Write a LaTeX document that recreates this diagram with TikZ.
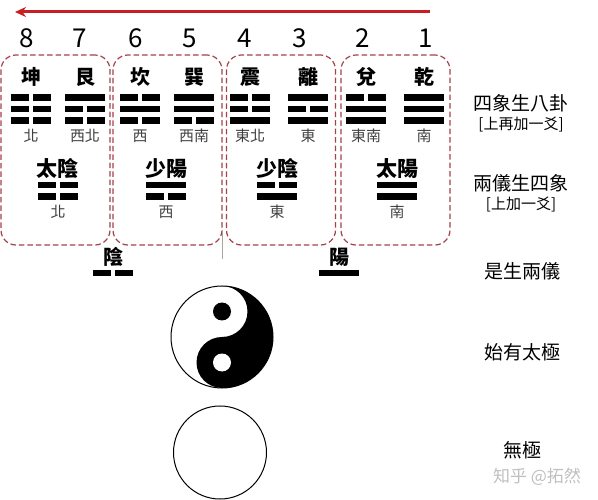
\documentclass[tikz,border=0pt]{standalone}
\usepackage{fontspec}
\setmainfont{Noto Sans CJK TC}
\usepackage{tikz}
\usetikzlibrary{positioning}
\usetikzlibrary{arrows.meta}
\definecolor{arrowred}{RGB}{200,30,35}
\definecolor{boxred}{RGB}{165,65,75}
\tikzset{gua box/.style={draw=boxred,dash pattern=on 5.5pt off 3pt,line width=1.2pt,rounded corners=15pt,minimum width=109pt,minimum height=190pt,inner sep=0pt},
  num/.style={font=\fontsize{26}{26}\selectfont},
  gua name/.style={font=\fontsize{20}{20}\selectfont\bfseries,inner sep=0pt},
  dir/.style={font=\fontsize{15}{15}\selectfont,text=black!75,inner sep=0pt},
  side/.style={font=\fontsize{19}{19}\selectfont,inner sep=0pt},
  side note/.style={font=\fontsize{15}{15}\selectfont,inner sep=0pt},}
\newcommand{\yangbar}[2]{\fill (#1-20,#2-3.3) rectangle (#1+20,#2+3.3);}
\newcommand{\yinbar}[2]{\fill (#1-20,#2-3.3) rectangle (#1-2.2,#2+3.3); \fill (#1+2.2,#2-3.3) rectangle (#1+20,#2+3.3);}

\begin{document}
\begin{tikzpicture}[x=1pt,y=-1pt]
	\useasboundingbox (0,0) rectangle (598,500);

	% order arrow and numbers
	\coordinate (arrow start) at (430,12);
	\coordinate (arrow end) at (15,12);
	\draw[-{Stealth[length=11pt,width=10pt]}, arrowred, line width=3pt] (arrow start) -- (arrow end);
	\foreach \n/\x in {8/27,7/80,6/136,5/190,4/245,3/300,2/363,1/426}
		\node[num] (n\n) at (\x,38) {\n};

	% dashed boxes
	\node[gua box] (box1) at (55.5,150) {};
	\node[gua box] (box2) at (167.5,150) {};
	\node[gua box] (box3) at (281,150) {};
	\node[gua box] (box4) at (395.5,150) {};
	\draw[gray!70, line width=0.6pt] (222,230) -- (222,259);

	% eight trigrams
	\foreach \x/\name/\dirn/\a/\b/\c in {31/坤/北/yin/yin/yin, 85/艮/西北/yang/yin/yin, 140/坎/西/yin/yang/yin, 194/巽/西南/yang/yang/yin, 250/震/東北/yin/yin/yang, 308/離/東/yang/yin/yang, 366/兌/東南/yin/yang/yang, 424/乾/南/yang/yang/yang}
	{
		\node[gua name] (g\x) at (\x,77) {\name};
		\csname\a bar\endcsname{\x}{97.7}
		\csname\b bar\endcsname{\x}{109}
		\csname\c bar\endcsname{\x}{120.3}
		\node[dir] (d\x) at (\x,136) {\dirn};
	}

	% four images
	\foreach \x/\name/\dirn/\a/\b in {58/太陰/北/yin/yin, 166/少陽/西/yang/yin, 277/少陰/東/yin/yang, 397/太陽/南/yang/yang}
	{
		\node[gua name, font=\fontsize{21}{21}\selectfont\bfseries] (s\x) at (\x,169) {\name};
		\csname\a bar\endcsname{\x}{185}
		\csname\b bar\endcsname{\x}{196.7}
		\node[dir] (e\x) at (\x,212) {\dirn};
	}

	% two modes
	\node[gua name] (yin) at (113,257) {陰};
	\yinbar{113}{273}
	\node[gua name] (yang) at (339,257) {陽};
	\yangbar{339}{273}

	% taiji
	\node[circle, draw, line width=1pt, minimum size=102pt, inner sep=0pt] (taiji) at (222,337) {};
	\begin{scope}[shift={(taiji.center)}, yscale=-1]
		\fill (0,51) arc[start angle=90, end angle=-90, radius=51]
			arc[start angle=-90, end angle=-270, radius=25.5]
			arc[start angle=-90, end angle=90, radius=25.5];
		\fill (0,25.5) circle (9);
		\fill[white] (0,-25.5) circle (9);
	\end{scope}

	% wuji
	\node[circle, draw, line width=1pt, minimum size=93pt, inner sep=0pt] (wuji) at (220,452.5) {};

	% side labels
	\node[side] (bagua) at (521,103) {四象生八卦};
	\node[side note] (bagua note) [below=5pt of bagua] {[上再加一爻]};
	\node[side] (sixiang) at (521,183) {兩儀生四象};
	\node[side note] (sixiang note) [below=5pt of sixiang] {[上加一爻]};
	\node[side] (liangyi) at (522,271) {是生兩儀};
	\node[side] (taiji label) at (522,352) {始有太極};
	\node[side] (wuji label) at (522,450) {無極};
	\node[font=\fontsize{17}{17}\selectfont, text=black!25] (mark) at (537,477) {知乎 @拓然};
\end{tikzpicture}
\end{document}
